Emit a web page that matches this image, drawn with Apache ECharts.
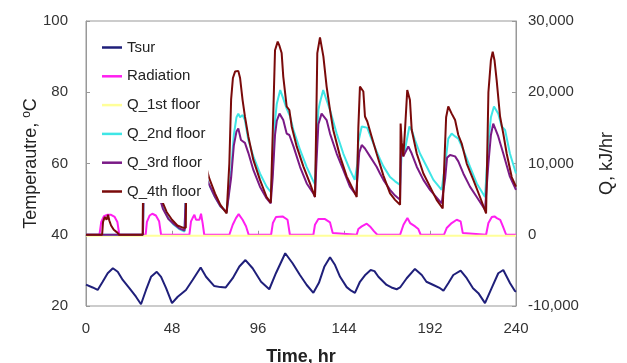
<!DOCTYPE html>
<html>
<head>
<meta charset="utf-8">
<script src="https://cdn.jsdelivr.net/npm/echarts@6/dist/echarts.min.js"></script>
<style>html,body{margin:0;padding:0;background:#fff}#c{width:627px;height:363px}</style>
</head>
<body>
<div id="c"></div>
<script>
// ---- data (time in hr) ----
const xTicks = [0, 48, 96, 144, 192, 240];
const legendNames = ['Tsur', 'Radiation', 'Q_1st floor', 'Q_2nd floor', 'Q_3rd floor', 'Q_4th floor'];

// Surface temperature, degC (left axis)
const tsur = [[0,26],[1,25.9],[3.7,25.2],[6.5,24.5],[9.3,26.8],[12.1,29.2],[15,30.6],[17.7,29.6],[20.5,27.3],[24.2,25],[27.9,22.6],[30.7,20.5],[33.5,24.5],[36.3,28.2],[39.5,29.6],[41.9,28.2],[44.7,25],[48,20.8],[51.2,22.6],[55.8,24.5],[59.5,27.3],[64,30.8],[67,28.2],[71.6,25.6],[75,25.3],[78,25.2],[81.9,27.8],[85.6,31.1],[89,32.9],[93,30.6],[97.7,26.8],[102.3,24.7],[106,29.2],[111.2,34.8],[115.3,32],[119.4,28.7],[123.2,25.9],[126.9,23.7],[130,26.5],[133,31],[136.2,33.7],[139,31.5],[141.8,28.2],[145.5,25.3],[148,24.3],[150.1,23.7],[152.9,26.8],[156,28.8],[158.9,30.1],[161,29.8],[163.2,28.2],[167.8,25.9],[170.5,25.2],[173.4,24.7],[175.3,25.2],[179,27.8],[183.6,30.4],[187.4,28.7],[190,26.8],[193.9,25.9],[197.6,25],[199.5,24.3],[202.2,26.4],[205,28.7],[209.1,29.9],[212.5,27.8],[216,25],[219,23.6],[222.7,20.8],[226.4,25],[230.1,29.2],[232.9,30.1],[236.7,26.4],[239.4,24.2],[240,24]];

// Radiation (right axis)
const radiation = [[0,0],[7.5,0],[8.5,1800],[10,2600],[12,2800],[14,2800],[16,2500],[17.5,1800],[18.6,0],
 [33.3,0],[34,1800],[35.5,2700],[37,2950],[39,2700],[40.8,1900],[41.9,0],
 [57.7,0],[58.6,1870],[59.5,2340],[60.5,2810],[61.4,2100],[62.3,2340],[63.3,2100],[64.2,2950],[65.1,1640],[66,0],
 [80,0],[81.9,1400],[83.7,2340],[85.2,2900],[87.4,2100],[89.3,1200],[90.8,0],
 [103.3,0],[104.3,1640],[106,2480],[109.7,2570],[112.5,2100],[113.8,0],
 [126.9,0],[127.8,1400],[129.7,2200],[133.4,2200],[136.2,1730],[137.7,230],[138,0],
 [151.1,0],[152,800],[153.9,1170],[156.7,1550],[158.5,1170],[160.8,470],[162.6,0],
 [175.3,0],[177.2,1400],[179.4,2340],[180.9,1640],[183.7,1170],[185.5,800],[186.8,0],
 [199.8,0],[201.3,940],[204.1,1640],[206.9,2100],[209.1,1870],[210.3,230],[210.6,0],
 [223.3,0],[224.6,1640],[226.5,2480],[228,2570],[229.3,2340],[231.2,2100],[232.7,1170],[234.5,0],[240,0]];

// Heat, kJ/hr (right axis)
const q1st = [[0,-150],[240,-150]];

const q2nd = [[0,0],[31.8,0],[32.3,9000],[35,12000],[38,9500],[41,5500],[43,3800],[46,2300],[49,1400],[52,800],[55,450],[55.8,450],[56.3,11000],[59,14500],[62,12000],[65,9500],[68.8,7000],[72,5300],[75,4000],[78.5,3100],[79.5,3200],[81,9000],[82.5,14000],[84,16500],[85,17000],[86,16500],[87.4,16800],[88.7,16100],[90.6,13300],[93.4,11000],[97.1,8600],[100.8,6750],[103.1,6000],
 [104.2,9000],[105.5,16000],[106.5,18400],[108.4,20300],[110.1,19100],[112,17700],[113.9,16600],[115.8,14700],[119.5,11900],[123.2,9500],[126.9,7500],[127.8,7100],
 [128.6,12000],[129.7,17500],[130.5,18500],[132.4,20300],[134.3,18900],[136.2,17500],[139.9,14200],[143.6,11400],[147.3,9100],[150,7700],
 [151.5,10000],[152,13000],[153.9,15200],[155.7,15100],[157,15000],[158.5,14000],[162.2,11700],[164.1,10600],[166,9600],[169.7,8100],[172.5,7500],[175.3,7000],
 [176.2,11500],[178,11900],[180.5,15200],[181.8,14700],[183.6,13300],[186.4,11400],[190.2,9550],[193.9,7700],[198.5,6300],[199.5,6200],
 [200.5,10000],[202.2,13500],[204.1,14200],[206,13800],[207.8,13500],[208.7,13500],[210.6,11900],[214.3,9550],[218.1,7200],[222.7,5300],[223.5,5200],
 [224.6,13000],[226,16500],[227.7,18000],[230.1,17000],[232,15200],[233.9,14700],[236.6,11400],[240,8600]];

const q3rd = [[0,0],[31.8,0],[32.3,8000],[35,11000],[38,9000],[41,5300],[43,3600],[46,2200],[49,1500],[52,900],[55,600],[55.8,600],[56.3,10000],[59,13000],[62,11000],[65,9000],[68.8,7000],[72,5300],[75,4000],[78.5,3200],[79.5,3200],[81,8000],[82.5,12500],[84,14500],[85,14900],[86.5,13300],[88.7,12900],[90.6,11500],[93.4,9100],[97.1,6750],[100.8,5100],[103.1,4400],
 [104.2,8000],[105.5,14000],[106.5,16000],[108,17000],[110.1,16100],[112,14200],[113.5,14000],[115.8,12400],[119.5,9500],[123.2,7200],[126.9,5800],[127.8,5300],
 [128.6,10000],[129.7,15500],[131.5,17000],[134.3,16100],[136.2,14200],[139.9,11400],[143.6,9100],[147.3,6750],[150.7,5600],
 [151.8,9000],[152.5,11500],[153.9,12600],[155.7,12100],[158.5,11000],[162.2,9550],[164.1,8600],[166,7700],[169.7,6300],[172.5,5500],[175.3,4900],
 [175.8,11500],[176.2,12400],[177.1,11000],[179.9,12400],[181.8,11400],[184.6,9550],[188.3,7700],[192,6300],[198.5,4400],[199.3,4300],
 [200.5,8000],[201.5,10800],[203.2,11200],[206,11000],[207.8,10300],[210.6,8600],[214.3,6750],[218.1,5300],[222.7,3500],[223.5,3400],
 [224.6,10000],[226,14000],[227.3,15600],[230.1,13800],[232.9,11400],[236.6,8150],[240,6300]];

const q4th = [[0,0],[9,0],[9.5,1800],[10.5,2500],[11.5,2100],[12.3,2800],[13,2000],[14,1300],[15.5,700],[17.5,300],[18.5,0],
 [31.6,0],[32,10000],[33.4,10000],[33.8,12000],[36,15000],[38,11000],[41,6500],[43,4400],[45,3200],[48,2100],[51,1300],[54,1000],[55.7,1000],[56.2,14000],[59,18500],[62,15000],[65,11500],[68.8,7900],[72,5800],[75,4200],[78.5,3000],[79.2,3000],
 [80,10000],[81,19000],[82,22000],[83.2,22900],[85,23000],[86,22000],[87.4,18900],[88.7,16600],[90.6,13800],[93.4,10500],[97.1,7700],[100.8,5300],[103.1,4500],
 [104.2,14000],[105.5,25900],[107,27100],[108,26500],[109.2,25500],[110.1,22200],[112,18000],[113.5,17500],[114.8,15200],[117.6,12400],[121.3,9600],[125,7200],[127.8,5300],
 [128.4,14000],[129.1,25500],[130.6,27700],[132.5,25000],[134.3,20800],[136.2,17500],[138,14700],[141.8,11000],[145.5,8200],[149.2,6300],[151.1,5300],
 [152,15000],[152.9,20800],[154.8,20100],[155.7,16600],[157,15900],[157.6,15700],[159.4,13800],[162.2,11400],[166,8300],[169.7,5800],[172.5,4900],[175.3,4200],
 [175.6,15600],[176.2,13000],[177.1,11000],[178,14500],[179.3,20300],[180.8,18900],[181.8,14700],[184.6,11400],[188.3,8600],[192,6750],[195.7,4900],[199.1,3700],
 [200,10000],[201,16500],[202.2,18000],[204.1,17000],[206,16100],[207.8,14000],[209.7,12800],[212.5,10000],[216.2,7700],[219.9,5300],[223.3,3000],
 [224,12000],[224.6,20000],[226,24500],[227,25700],[228,24500],[229.2,21700],[231.1,16600],[232.9,14200],[234.8,11400],[237.6,8100],[240,6750]];

const colors = ['#1f1f7a', '#ff1ff0', '#ffff99', '#3fe6e6', '#7a1a86', '#7a0a0a'];
const seriesData = [tsur, radiation, q1st, q2nd, q3rd, q4th];
const seriesAxis = [0, 1, 1, 1, 1, 1];

const chart = echarts.init(document.getElementById('c'), null, {renderer: 'canvas'});
const FONT = '"Liberation Sans", Arial, sans-serif';
const axisLineStyle = {color: '#999', width: 1};

chart.setOption({
  animation: false,
  backgroundColor: '#fff',
  grid: {left: 86, right: 111, top: 21, bottom: 57, show: true, borderColor: '#999', borderWidth: 1,
    containLabel: false, outerBoundsMode: 'none'},
  legend: {
    orient: 'vertical', left: 96, top: 31,
    padding: [8, 3, 3, 6],
    backgroundColor: '#fff',
    itemWidth: 20, itemHeight: 2.5, itemGap: 11.8,
    icon: 'rect',
    textStyle: {fontFamily: FONT, fontSize: 15, color: '#222', lineHeight: 17},
    data: legendNames
  },
  xAxis: {
    type: 'value', min: 0, max: 240, interval: 48,
    name: 'Time, hr', nameLocation: 'middle', nameGap: 42, nameMoveOverlap: false,
    nameTextStyle: {fontFamily: FONT, fontSize: 18, fontWeight: 'bold', color: '#222'},
    axisLine: {lineStyle: axisLineStyle},
    axisTick: {inside: true, length: 4, lineStyle: axisLineStyle},
    axisLabel: {fontFamily: FONT, fontSize: 15, color: '#333', margin: 15,
      formatter: v => xTicks.includes(v) ? String(v) : ''},
    splitLine: {show: false}
  },
  yAxis: [{
    type: 'value', min: 20, max: 100, interval: 20, position: 'left',
    name: 'Temperautre, {sup|o}C', nameLocation: 'middle', nameRotate: 90, nameGap: 44, nameMoveOverlap: false,
    nameTextStyle: {fontFamily: FONT, fontSize: 18, color: '#222',
      rich: {sup: {fontFamily: FONT, fontSize: 12, color: '#222', verticalAlign: 'top', padding: [0,0,9,0]}}},
    axisLine: {show: true, lineStyle: axisLineStyle},
    axisTick: {show: true, inside: true, length: 4, lineStyle: axisLineStyle},
    axisLabel: {fontFamily: FONT, fontSize: 15, color: '#333', margin: 18},
    splitLine: {show: false}
  }, {
    type: 'value', min: -10000, max: 30000, interval: 10000, position: 'right',
    name: 'Q, kJ/hr', nameLocation: 'middle', nameRotate: 90, nameGap: 82,
    nameTextStyle: {fontFamily: FONT, fontSize: 18, color: '#222'},
    axisLine: {show: true, lineStyle: axisLineStyle},
    axisTick: {show: true, inside: true, length: 4, lineStyle: axisLineStyle},
    axisLabel: {fontFamily: FONT, fontSize: 15, color: '#333', margin: 12,
      formatter: v => v.toLocaleString('en-US')},
    splitLine: {show: false}
  }],
  series: legendNames.map((n, i) => ({
    name: n, type: 'line', yAxisIndex: seriesAxis[i],
    data: seriesData[i], showSymbol: false, symbol: 'none',
    lineStyle: {color: colors[i], width: 2}, itemStyle: {color: colors[i]},
    z: 2 + i * 0.01
  }))
});
</script>
</body>
</html>
